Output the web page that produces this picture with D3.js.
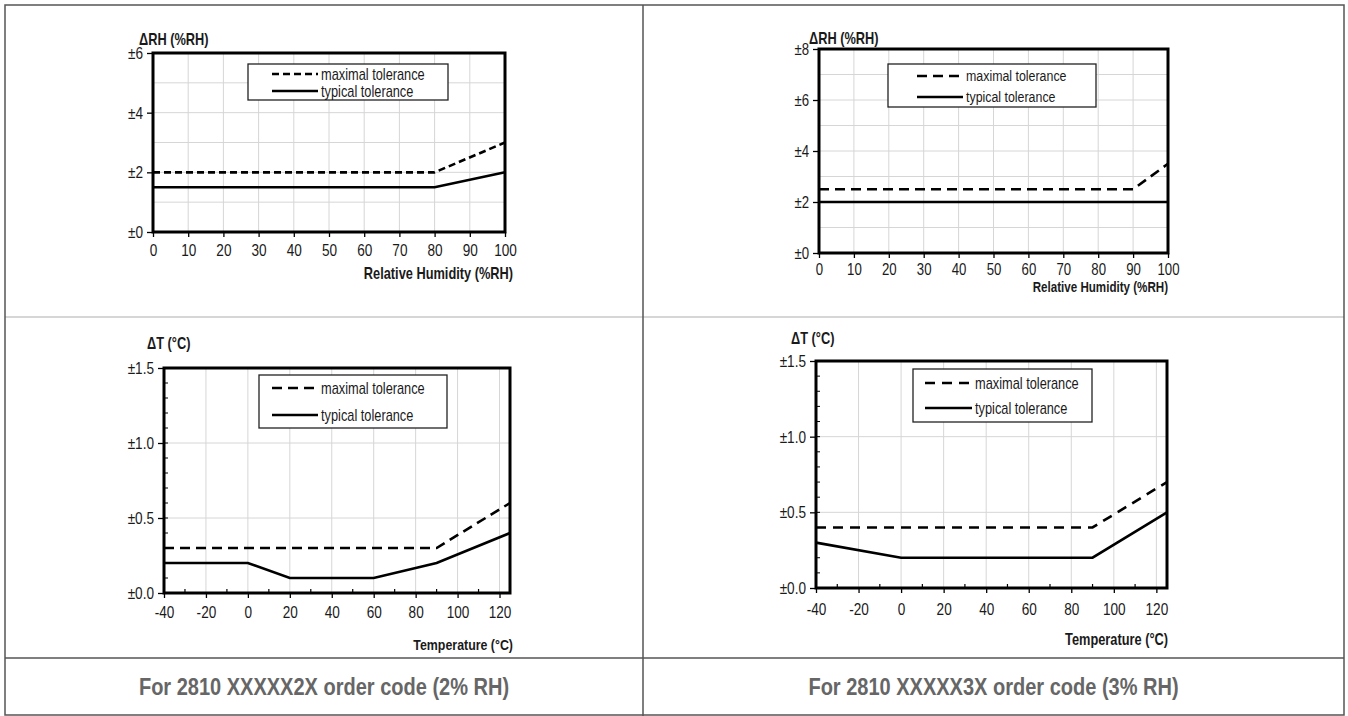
<!DOCTYPE html>
<html>
<head>
  <meta charset="utf-8"/>
  <style>
    body { margin: 0; background: #fff; }
    svg { display: block; }
    text { font-family: "Liberation Sans", Arial, sans-serif; fill: #1a1a1a; }
  </style>
</head>
<body>
  <div id="chart"></div>
  <script src="https://d3js.org/d3.v7.min.js"></script>
  <script>
    // humidity charts
    let rhTicks = [0, 10, 20, 30, 40, 50, 60, 70, 80, 90, 100];
    let rh2YTicks = [0, 2, 4, 6];
    let rh3YTicks = [0, 2, 4, 6, 8];
    let rh2MaxX = [0, 80, 100],  rh2Max = [2, 2, 3];
    let rh2TypX = [0, 80, 100],  rh2Typ = [1.5, 1.5, 2];
    let rh3MaxX = [0, 90, 100],  rh3Max = [2.5, 2.5, 3.5];
    let rh3TypX = [0, 100],      rh3Typ = [2, 2];

    // temperature charts
    let tempTicks = [-40, -20, 0, 20, 40, 60, 80, 100, 120];
    let tYTicks = [0, 0.5, 1.0, 1.5];
    let t2MaxX = [-40, 90, 125],             t2Max = [0.3, 0.3, 0.6];
    let t2TypX = [-40, 0, 20, 60, 90, 125],  t2Typ = [0.2, 0.2, 0.1, 0.1, 0.2, 0.4];
    let t3MaxX = [-40, 90, 125],             t3Max = [0.4, 0.4, 0.7];
    let t3TypX = [-40, 0, 90, 125],          t3Typ = [0.3, 0.2, 0.2, 0.5];

    let legendLabels = ['maximal tolerance', 'typical tolerance'];
    let captions = ['For 2810 XXXXX2X order code (2% RH)', 'For 2810 XXXXX3X order code (3% RH)'];

    let W = 1348, H = 716;
    let narrow = 0.8;   // fake Arial Narrow
    let svg = d3.select('#chart').append('svg')
        .attr('width', W).attr('height', H);

    // table lines
    let colX = 643, rowY = 317, capY = 658;
    svg.append('line').attr('x1', 5).attr('x2', W - 4).attr('y1', rowY).attr('y2', rowY)
        .attr('stroke', '#c8c8c8').attr('stroke-width', 1.5);
    svg.append('rect').attr('x', 5).attr('y', 5).attr('width', W - 9).attr('height', H - 6)
        .attr('fill', 'none').attr('stroke', '#555').attr('stroke-width', 1.5);
    svg.append('line').attr('x1', colX).attr('x2', colX).attr('y1', 5).attr('y2', H)
        .attr('stroke', '#555').attr('stroke-width', 1.5);
    svg.append('line').attr('x1', 5).attr('x2', W - 4).attr('y1', capY).attr('y2', capY)
        .attr('stroke', '#555').attr('stroke-width', 1.5);

    function label(parent, x, y, txt, size, bold, anchor, sx) {
      return parent.append('text')
          .attr('transform', 'translate(' + x + ',' + y + ') scale(' + sx + ',1)')
          .attr('dy', '0.35em')
          .attr('text-anchor', anchor)
          .style('font-size', size + 'px')
          .style('font-weight', bold ? 'bold' : 'normal')
          .text(txt);
    }

    captions.forEach((d, i) => {
      let cx = i === 0 ? (5 + colX) / 2 : (colX + W - 4) / 2;
      label(svg, cx, 687, d, 23, true, 'middle', 0.87).style('fill', '#666');
    });

    function drawChart(c) {
      let x = d3.scaleLinear().domain(c.xDomain).range([c.left, c.right]);
      let y = d3.scaleLinear().domain(c.yDomain).range([c.bottom, c.top]);
      let g = svg.append('g');

      // grid
      g.selectAll('.vgrid').data(c.xGrid).enter().append('line')
          .attr('x1', d => x(d)).attr('x2', d => x(d))
          .attr('y1', c.top).attr('y2', c.bottom)
          .attr('stroke', '#d6d6d6').attr('stroke-width', 1);
      g.selectAll('.hgrid').data(c.yGrid).enter().append('line')
          .attr('x1', c.left).attr('x2', c.right)
          .attr('y1', d => y(d)).attr('y2', d => y(d))
          .attr('stroke', '#d6d6d6').attr('stroke-width', 1);

      // minor ticks inside
      if (c.xMinor) {
        g.selectAll('.xminor').data(c.xMinor).enter().append('line')
            .attr('x1', d => x(d)).attr('x2', d => x(d))
            .attr('y1', c.bottom).attr('y2', c.bottom - 4)
            .attr('stroke', '#000').attr('stroke-width', 1.2);
      }
      if (c.yMinor) {
        g.selectAll('.yminor').data(c.yMinor).enter().append('line')
            .attr('x1', c.left).attr('x2', c.left + 4)
            .attr('y1', d => y(d)).attr('y2', d => y(d))
            .attr('stroke', '#000').attr('stroke-width', 1);
      }

      // axes
      let xAxis = g.append('g')
          .attr('transform', 'translate(0,' + c.bottom + ')')
          .call(d3.axisBottom(x).tickValues(c.xTicks).tickSize(5).tickPadding(c.xPad).tickFormat(d => String(d)));
      let yAxis = g.append('g')
          .attr('transform', 'translate(' + c.left + ',0)')
          .call(d3.axisLeft(y).tickValues(c.yTicks).tickSize(6)
              .tickFormat(d => '±' + d3.format(c.yFmt)(d)));
      [xAxis, yAxis].forEach(a => {
        a.select('.domain').remove();
        a.selectAll('.tick line').attr('stroke', '#000').attr('stroke-width', 1.3);
        a.selectAll('.tick text')
            .style('font-size', c.fs + 'px').style('font-family', '"Liberation Sans", Arial, sans-serif')
            .attr('fill', '#1a1a1a');
      });
      xAxis.selectAll('.tick text').attr('transform', 'scale(' + narrow + ',1)');
      yAxis.selectAll('.tick text').attr('x', 0)
          .attr('transform', 'translate(-10,0) scale(' + narrow + ',1)');

      // series
      let line = d3.line().x(d => x(d[0])).y(d => y(d[1]));
      g.append('path')
          .datum(d3.zip(c.maxX, c.maxY))
          .attr('d', line)
          .attr('fill', 'none').attr('stroke', '#000').attr('stroke-width', 2.6)
          .attr('stroke-dasharray', c.dash);
      g.append('path')
          .datum(d3.zip(c.typX, c.typY))
          .attr('d', line)
          .attr('fill', 'none').attr('stroke', '#000').attr('stroke-width', 2.6);

      // frame
      g.append('rect')
          .attr('x', c.left).attr('y', c.top)
          .attr('width', c.right - c.left).attr('height', c.bottom - c.top)
          .attr('fill', 'none').attr('stroke', '#000').attr('stroke-width', 3);

      // legend
      let L = c.legend;
      g.append('rect')
          .attr('x', L.x).attr('y', L.y).attr('width', L.w).attr('height', L.h)
          .attr('fill', '#fff').attr('stroke', '#222').attr('stroke-width', 1.3);
      legendLabels.forEach((d, i) => {
        g.append('line')
            .attr('x1', L.lx1).attr('x2', L.lx2)
            .attr('y1', L.rows[i]).attr('y2', L.rows[i])
            .attr('stroke', '#000').attr('stroke-width', 2.6)
            .attr('stroke-dasharray', i === 0 ? c.dash : null);
        label(g, L.lx2 + 3, L.rows[i], d, L.fs, false, 'start', narrow);
      });

      // titles
      label(g, c.yTitle[0], c.yTitle[1], c.yLabel, 16, true, 'start', narrow);
      label(g, c.xTitle[0], c.xTitle[1], c.xLabel, c.xtFs, true, 'end', narrow);
    }

    drawChart({
      left: 153, right: 505, top: 53, bottom: 232,
      xDomain: [0, 100], yDomain: [0, 6],
      xTicks: rhTicks, xGrid: rhTicks, yTicks: rh2YTicks, yGrid: [1, 2, 3, 4, 5], yFmt: 'd',
      xPad: 7, fs: 17, xtFs: 16,
      maxX: rh2MaxX, maxY: rh2Max, typX: rh2TypX, typY: rh2Typ, dash: '7,4',
      legend: {x: 248, y: 64, w: 200, h: 36, rows: [74, 91], lx1: 272, lx2: 318, fs: 16},
      yLabel: 'ΔRH (%RH)', yTitle: [139, 39],
      xLabel: 'Relative Humidity (%RH)', xTitle: [513, 273]
    });

    drawChart({
      left: 819, right: 1168, top: 49, bottom: 253,
      xDomain: [0, 100], yDomain: [0, 8],
      xTicks: rhTicks, xGrid: rhTicks, yTicks: rh3YTicks, yGrid: [1, 2, 3, 4, 5, 6, 7], yFmt: 'd',
      xPad: 5, fs: 16.5, xtFs: 14.5,
      maxX: rh3MaxX, maxY: rh3Max, typX: rh3TypX, typY: rh3Typ, dash: '10,6',
      legend: {x: 888, y: 64, w: 208, h: 43, rows: [76, 97], lx1: 917, lx2: 963, fs: 15.5},
      yLabel: 'ΔRH (%RH)', yTitle: [809, 38],
      xLabel: 'Relative Humidity (%RH)', xTitle: [1168, 287]
    });

    drawChart({
      left: 164, right: 510, top: 368, bottom: 593,
      xDomain: [-40, 125], yDomain: [0, 1.5],
      xTicks: tempTicks, xGrid: tempTicks, yTicks: tYTicks, yGrid: [0.5, 1.0], yFmt: '.1f',
      xMinor: [-30, -10, 10, 30, 50, 70, 90, 110],
      yMinor: d3.range(1, 15).map(d => d / 10),
      xPad: 8, fs: 17, xtFs: 15.5,
      maxX: t2MaxX, maxY: t2Max, typX: t2TypX, typY: t2Typ, dash: '10,6',
      legend: {x: 259, y: 375, w: 188, h: 53, rows: [388, 415], lx1: 272, lx2: 318, fs: 16},
      yLabel: 'ΔT (°C)', yTitle: [147, 343],
      xLabel: 'Temperature (°C)', xTitle: [513, 645]
    });

    drawChart({
      left: 816, right: 1167, top: 361, bottom: 588,
      xDomain: [-40, 125], yDomain: [0, 1.5],
      xTicks: tempTicks, xGrid: tempTicks, yTicks: tYTicks, yGrid: [0.5, 1.0], yFmt: '.1f',
      xMinor: [-30, -10, 10, 30, 50, 70, 90, 110],
      yMinor: d3.range(1, 15).map(d => d / 10),
      xPad: 10, fs: 17, xtFs: 16,
      maxX: t3MaxX, maxY: t3Max, typX: t3TypX, typY: t3Typ, dash: '10,7',
      legend: {x: 913, y: 369, w: 179, h: 53, rows: [383, 408], lx1: 925, lx2: 972, fs: 16},
      yLabel: 'ΔT (°C)', yTitle: [791, 338],
      xLabel: 'Temperature (°C)', xTitle: [1168, 639]
    });
  </script>
</body>
</html>
